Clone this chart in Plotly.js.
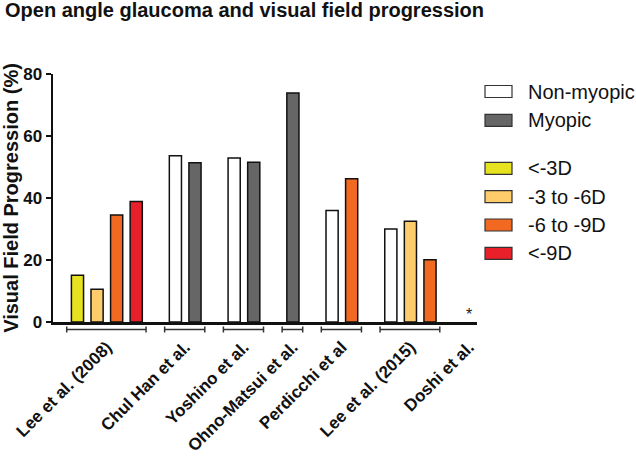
<!DOCTYPE html>
<html>
<head>
<meta charset="utf-8">
<script src="https://cdn.plot.ly/plotly-3.0.1.min.js"></script>
<style>html,body{margin:0;padding:0;background:#fff;}#chart{width:636px;height:464px;}</style>
</head>
<body>
<div id="chart"></div>
<script>
// ---- data ----
const studies = ['Lee et al. (2008)', 'Chul Han et al.', 'Yoshino et al.', 'Ohno-Matsui et al.', 'Perdicchi et al', 'Lee et al. (2015)', 'Doshi et al.'];
const nonMyopic = [null, 53.6, 52.9, null, 36.0, 30.0, null];
const myopic    = [null, 51.4, 51.5, 73.9, null, null, null];
const below3D   = [15.1, null, null, null, null, null, null];
const d3to6D    = [10.6, null, null, null, null, 32.5, null];
const d6to9D    = [34.5, null, null, null, 46.2, 20.1, null];
const beyond9D  = [38.9, null, null, null, null, null, null];
const notAvailable = [false, false, false, false, false, false, true];
const seriesNames = ['Non-myopic', 'Myopic', '<-3D', '-3 to -6D', '-6 to -9D', '<-9D'];
const yTicks = [0, 20, 40, 60, 80];

// ---- styles ----
const seriesData = [nonMyopic, myopic, below3D, d3to6D, d6to9D, beyond9D];
const colors = ['#FFFFFF', '#666666', '#E6E21F', '#FECC6A', '#F26A22', '#E91F2A'];
const FONT = 'Liberation Sans, Arial, Helvetica, sans-serif';

// slot layout: consecutive bars per study, one empty slot between studies
const pos = seriesData.map(() => studies.map(() => null));
const groupCenter = [], groupStart = [], groupEnd = [];
let slot = 0;
studies.forEach((s, i) => {
  const first = slot;
  let n = 0;
  seriesData.forEach((arr, k) => {
    if (arr[i] !== null) { pos[k][i] = slot; slot++; n++; }
  });
  if (n === 0) slot++;
  const last = slot - 1;
  groupStart.push(first); groupEnd.push(last);
  groupCenter.push((first + last) / 2);
  slot++;
});

const traces = seriesData.map((arr, k) => {
  const xs = [], ys = [];
  arr.forEach((v, i) => { if (v !== null) { xs.push(pos[k][i]); ys.push(v); } });
  return {
    type: 'bar', x: xs, y: ys, name: seriesNames[k], width: 0.62,
    marker: {color: colors[k], line: {color: '#111', width: 1.5}},
    showlegend: false, hoverinfo: 'skip'
  };
});

// geometry helpers
const L = 53, R = 159, T = 74, B = 142;
const W = 636, H = 464;
const PW = W - L - R, PH = H - T - B;
const pxX = px => (px - L) / PW;
const pxY = py => (H - B - py) / PH;

const shapes = [], annotations = [];
// group brackets
studies.forEach((s, i) => {
  if (notAvailable[i]) return;
  const x0 = groupStart[i] - 0.55, x1 = groupEnd[i] + 0.5;
  const yb = pxY(329.5), yt = pxY(326.5), ybb = pxY(332.5);
  const line = {color: '#333', width: 1.5};
  shapes.push({type: 'line', xref: 'x', yref: 'paper', x0: x0, x1: x1, y0: yb, y1: yb, line: line});
  shapes.push({type: 'line', xref: 'x', yref: 'paper', x0: x0, x1: x0, y0: yt, y1: ybb, line: line});
  shapes.push({type: 'line', xref: 'x', yref: 'paper', x0: x1, x1: x1, y0: yt, y1: ybb, line: line});
});
// not-available marker
studies.forEach((s, i) => {
  if (notAvailable[i]) {
    annotations.push({x: groupCenter[i], y: 0, xref: 'x', yref: 'y', text: '*', showarrow: false,
      yanchor: 'bottom', yshift: -3, font: {family: FONT, size: 16, color: '#222'}});
  }
});
// manual legend
const esc = t => t.replace(/&/g, '&amp;').replace(/</g, '&lt;').replace(/>/g, '&gt;');
const rowY = [91.5, 120.3, 168.3, 196.7, 225, 253.3];
seriesNames.forEach((nm, k) => {
  const c = rowY[k];
  shapes.push({type: 'rect', xref: 'paper', yref: 'paper', x0: pxX(485), x1: pxX(512),
    y0: pxY(c + 6), y1: pxY(c - 6), fillcolor: colors[k], line: {color: '#333', width: 1.2}});
  annotations.push({xref: 'paper', yref: 'paper', x: pxX(526), y: pxY(c), xanchor: 'left', yanchor: 'middle',
    text: esc(nm), showarrow: false, font: {family: FONT, size: 20, color: '#111'}});
});

const layout = {
  width: W, height: H, autosize: false,
  margin: {l: L, r: R, t: T, b: B, pad: 0},
  paper_bgcolor: '#fff', plot_bgcolor: '#fff',
  title: {text: 'Open angle glaucoma and visual field progression', x: 5 / W, xanchor: 'left',
    y: 1 - 3 / H, yanchor: 'top', font: {family: FONT, size: 20, weight: 'bold', color: '#111'}},
  xaxis: {range: [-1.25, 20.4], tickvals: groupCenter, ticktext: studies, tickangle: -45,
    ticks: '', showgrid: false, zeroline: false, showline: true, linecolor: '#111', linewidth: 2.5,
    ticklabelstandoff: 6, tickfont: {family: FONT, size: 17, weight: 'bold', color: '#111'}, automargin: false},
  yaxis: {range: [0, 80], tickvals: yTicks, ticks: 'outside', ticklen: 5, tickwidth: 2.5, tickcolor: '#111',
    showgrid: false, zeroline: false, showline: true, linecolor: '#111', linewidth: 2.5,
    tickfont: {family: FONT, size: 17, weight: 'bold', color: '#111'}, automargin: false,
    title: {text: 'Visual Field Progression (%)', standoff: 9, font: {family: FONT, size: 20, weight: 'bold', color: '#111'}}},
  bargap: 0, shapes: shapes, annotations: annotations
};

Plotly.newPlot('chart', traces, layout, {displayModeBar: false, staticPlot: true});
</script>
</body>
</html>
